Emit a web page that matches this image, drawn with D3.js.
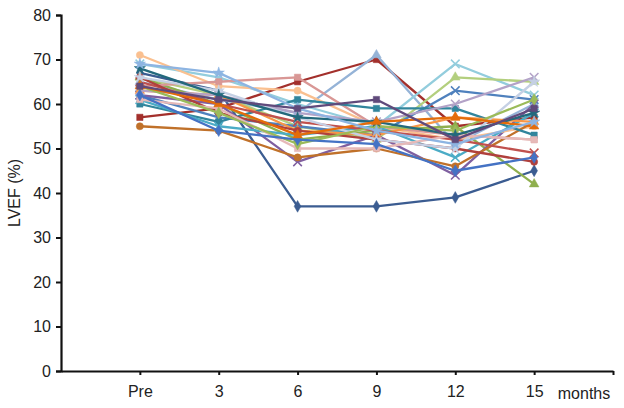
<!DOCTYPE html>
<html><head><meta charset="utf-8">
<script src="https://cdn.jsdelivr.net/npm/d3@7"></script>
<style>body{margin:0;background:#fff}svg{display:block}text{font-family:"Liberation Sans",Arial,sans-serif;fill:#222}</style>
</head><body><div id="chart"></div>
<script>
const categories = ["Pre","3","6","9","12","15"];
const yTicks = [0,10,20,30,40,50,60,70,80];
const seriesNames = ["P1","P2","P3","P4","P5","P6","P7","P8","P9","P10","P11","P12","P13","P14","P15","P16","P17","P18","P19","P20","P21","P22","P23","P24","P25"];
const seriesColors = ["#3B5C91","#A3302C","#95B3D7","#93CDDD","#B3CF7E","#4F81BD","#8FAF4E","#7F5FA0","#FAC090","#C0712A","#D99795","#31859C","#4BACC6","#F79646","#C0504D","#B0403C","#B3A2C7","#C5D0E4","#E6B9B8","#9BBB59","#23697C","#4472C4","#E46C0A","#8DB4E2","#604A7B"];
const seriesMarkers = ["diamond","square","triangle","cross","triangle","cross","triangle","cross","circle","circle","square","square","cross","triangle","cross","circle","cross","star","square","diamond","star","diamond","triangle","star","square"];
const seriesValues = [
  [67,63,37,37,39,45],
  [57,59,65,70,55,57],
  [65,61,58,71,51,60],
  [69,66,60,55,69,62],
  [66,62,55,52,66,65],
  [62,57,55,53,63,61],
  [66,60,52,54,55,42],
  [62,60,47,53,44,60],
  [71,64,63,55,52,55],
  [55,54,48,50,46,56],
  [64,65,66,55,53,52],
  [60,56,61,59,59,53],
  [61,55,53,55,48,58],
  [63,62,54,53,57,56],
  [65,60,56,54,52,49],
  [66,58,54,52,50,47],
  [63,62,58,56,60,66],
  [66,63,57,52,50,65],
  [61,59,50,50,53,52],
  [64,58,51,55,54,61],
  [68,62,57,56,53,58],
  [62,54,52,51,45,48],
  [64,60,53,56,57,55],
  [69,67,59,54,51,56],
  [64,61,59,61,52,59]
];

const W=624,H=408;
const svg=d3.select("#chart").append("svg").attr("width",W).attr("height",H);
const x0=61, xEnd=613, yTop=15, yBot=371;
const x=d3.scalePoint().domain(["",...categories,"end"]).range([x0,xEnd]);
const y=d3.scaleLinear().domain([0,80]).range([yBot,yTop]);

const yAxis=d3.axisLeft(y).tickValues(yTicks).tickSize(5).tickPadding(5);
const gy=svg.append("g").attr("transform",`translate(${x0},0)`).call(yAxis);
gy.select(".domain").attr("stroke","#111").attr("stroke-width",2.2);
gy.selectAll(".tick line").attr("stroke","#111").attr("stroke-width",2);
gy.selectAll(".tick text").style("font-size","16px").attr("fill","#222");

const xAxis=d3.axisBottom(x).tickValues([...categories,"end"]).tickSize(4).tickPadding(11).tickFormat(d=>d==="end"?"":d).tickSizeOuter(0);
const gx=svg.append("g").attr("transform",`translate(0,${yBot})`).call(xAxis);
gx.select(".domain").attr("stroke","#111").attr("stroke-width",2.2);
gx.selectAll(".tick line").attr("stroke","#111").attr("stroke-width",2);
gx.selectAll(".tick text").style("font-size","16px").attr("fill","#222");

svg.append("text").attr("x",584).attr("y",399).attr("text-anchor","middle").style("font-size","16px").text("months");
svg.append("text").attr("transform",`translate(20,193) rotate(-90)`).attr("text-anchor","middle").style("font-size","16px").text("LVEF (%)");

const line=d3.line().x((d,i)=>x(categories[i])).y(d=>y(d));
const symMap={diamond:d3.symbolDiamond,square:d3.symbolSquare,triangle:d3.symbolTriangle,circle:d3.symbolCircle,star:d3.symbolStar,cross:d3.symbolX};
const plot=svg.append("g");
seriesValues.forEach((vals,si)=>{
  const c=seriesColors[si];
  const g=plot.append("g");
  g.append("path").datum(vals).attr("d",line).attr("fill","none").attr("stroke",c).attr("stroke-width",2.3).attr("stroke-linejoin","round");
  const m=seriesMarkers[si];
  g.selectAll("path.m").data(vals).enter().append("path").attr("class","m")
    .attr("transform",(d,i)=>`translate(${x(categories[i])},${y(d)})`)
    .attr("d",d3.symbol().type(symMap[m]).size(m==="cross"?50:40))
    .attr("fill",m==="cross"?"none":c).attr("stroke",c).attr("stroke-width",m==="cross"?1.5:0.5);
});
</script></body></html>
